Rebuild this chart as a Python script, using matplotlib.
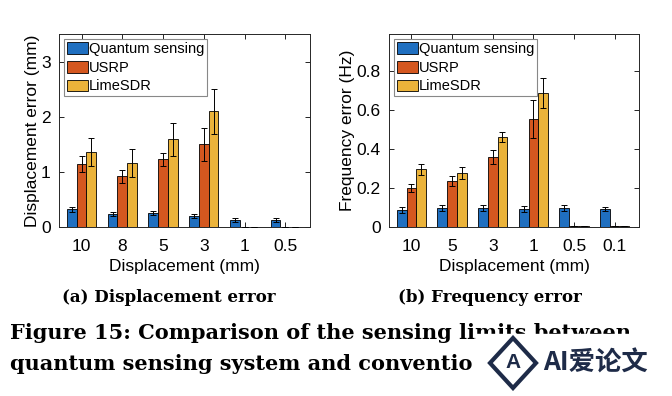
import numpy as np
import matplotlib
matplotlib.use("Agg")
import matplotlib.pyplot as plt
from matplotlib.patches import Rectangle, Polygon

plt.rcParams['font.family'] = ['Liberation Sans', 'DejaVu Sans']

series = ["Quantum sensing", "USRP", "LimeSDR"]
colors = ["#1f6fc0", "#d4571f", "#ebb33a"]

# (a) displacement error
disp_labels = ["10", "8", "5", "3", "1", "0.5"]
disp_qs = [0.32, 0.23, 0.25, 0.20, 0.12, 0.12]
disp_qs_err = [0.05, 0.04, 0.04, 0.04, 0.04, 0.04]
disp_usrp = [1.14, 0.92, 1.23, 1.50, 0.005, 0.005]
disp_usrp_err = [0.14, 0.12, 0.12, 0.30, 0.0, 0.0]
disp_lime = [1.36, 1.16, 1.59, 2.10, 0.005, 0.005]
disp_lime_err = [0.25, 0.26, 0.30, 0.41, 0.0, 0.0]

# (b) frequency error
freq_labels = ["10", "5", "3", "1", "0.5", "0.1"]
freq_qs = [0.086, 0.095, 0.097, 0.092, 0.097, 0.090]
freq_qs_err = [0.015, 0.015, 0.013, 0.015, 0.013, 0.010]
freq_usrp = [0.199, 0.235, 0.360, 0.555, 0.003, 0.003]
freq_usrp_err = [0.022, 0.025, 0.035, 0.098, 0.0, 0.0]
freq_lime = [0.295, 0.276, 0.460, 0.685, 0.003, 0.003]
freq_lime_err = [0.028, 0.031, 0.025, 0.077, 0.0, 0.0]


def grouped(ax, labels, vals, errs, ylim, yticks, ylabel):
    x = np.arange(1, len(labels) + 1)
    w = 0.24
    for i, (v, e) in enumerate(zip(vals, errs)):
        pos = x + (i - 1) * w
        ax.bar(pos, v, w, color=colors[i], edgecolor="black", linewidth=0.6,
               label=series[i], zorder=2)
        ax.errorbar(pos, v, yerr=e, fmt="none", ecolor="black", elinewidth=0.7,
                    capsize=2.5, capthick=0.7, zorder=3)
    ax.set_xlim(0.45, 6.6)
    ax.set_ylim(*ylim)
    ax.set_xticks(x)
    ax.set_xticklabels(labels)
    ax.set_yticks(yticks)
    ax.tick_params(direction="in", top=True, right=True, length=3.5,
                   width=0.6, labelsize=12.5, pad=6)
    ax.tick_params(axis="x", pad=9)
    for s in ax.spines.values():
        s.set_linewidth(0.7)
        s.set_color("#262626")
    ax.set_xlabel("Displacement (mm)", fontsize=12.5, labelpad=3)
    ax.set_ylabel(ylabel, fontsize=12.5, labelpad=1)
    leg = ax.legend(loc="upper left", fontsize=10.5, fancybox=False,
                    edgecolor="#888888", framealpha=1, handlelength=1.45,
                    handleheight=0.85, handletextpad=0.05, labelspacing=0.32,
                    borderpad=0.2, borderaxespad=0.35)
    leg.get_frame().set_linewidth(0.8)


fig = plt.figure(figsize=(6.72, 3.96), dpi=100)
ax1 = fig.add_axes([0.088, 0.427, 0.373, 0.487])
ax2 = fig.add_axes([0.579, 0.427, 0.372, 0.487])

grouped(ax1, disp_labels, [disp_qs, disp_usrp, disp_lime],
        [disp_qs_err, disp_usrp_err, disp_lime_err], (0, 3.5), [0, 1, 2, 3],
        "Displacement error (mm)")
grouped(ax2, freq_labels, [freq_qs, freq_usrp, freq_lime],
        [freq_qs_err, freq_usrp_err, freq_lime_err], (0, 0.99),
        [0, 0.2, 0.4, 0.6, 0.8], "Frequency error (Hz)")
ax2.set_yticklabels(["0", "0.2", "0.4", "0.6", "0.8"])

serif = ["DejaVu Serif"]
fig.text(169 / 672, 1 - 298 / 396, "(a) Displacement error", ha="center",
         va="center", fontsize=12, fontweight="bold", family=serif)
fig.text(490 / 672, 1 - 298 / 396, "(b) Frequency error", ha="center",
         va="center", fontsize=12, fontweight="bold", family=serif)
fig.text(10 / 672, 1 - 333 / 396, "Figure 15: Comparison of the sensing limits between",
         ha="left", va="center", fontsize=15, fontweight="bold", family=serif)
fig.text(10 / 672, 1 - 364 / 396, "quantum sensing system and conventio",
         ha="left", va="center", fontsize=15, fontweight="bold", family=serif)

# watermark box
fig.patches.append(Rectangle((476 / 672, 0), 1, 1 - 334 / 396,
                             transform=fig.transFigure, color="white", zorder=5))
navy = "#1e2b48"
cx, cy = 513, 363
diamond = [((cx - 23) / 672, 1 - cy / 396), (cx / 672, 1 - (cy - 25) / 396),
           ((cx + 23) / 672, 1 - cy / 396), (cx / 672, 1 - (cy + 25) / 396)]
fig.patches.append(Polygon(diamond, closed=True, fill=False, edgecolor=navy,
                           linewidth=3, transform=fig.transFigure, zorder=6))
fig.text(cx / 672, 1 - cy / 396, "A", ha="center", va="center", fontsize=15,
         fontweight="bold", color=navy, zorder=6)
fig.text(543 / 672, 1 - 363 / 396, "AI爱论文", ha="left", va="center",
         fontsize=19, fontweight="bold", color=navy,
         family=["Noto Sans CJK SC", "DejaVu Sans"], zorder=6)

fig.savefig("out.png", dpi=100)
